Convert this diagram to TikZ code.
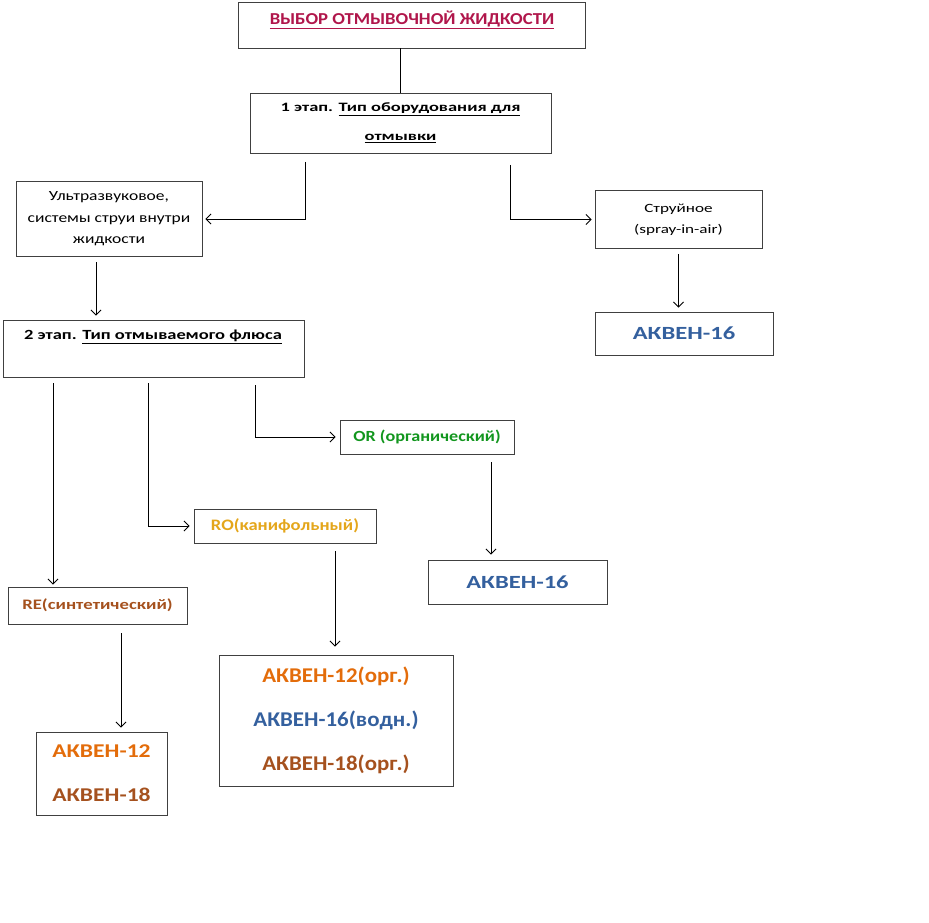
\documentclass[tikz,border=0pt]{standalone}
\usepackage{fontspec}
\setmainfont{Carlito}
\usetikzlibrary{arrows.meta}
\definecolor{titlered}{HTML}{B0164B}
\definecolor{akblue}{HTML}{34609E}
\definecolor{akorange}{HTML}{E36C0A}
\definecolor{akbrown}{HTML}{A5511E}
\definecolor{royellow}{HTML}{E4A61B}
\definecolor{orgreen}{HTML}{12961E}
\definecolor{boxgray}{HTML}{404040}
\newcommand\wfs[1]{\addfontfeatures{FakeStretch=#1}}
\begin{document}
\begin{tikzpicture}[x=1pt,y=-1pt,
  box/.style={draw=boxgray,line width=0.9pt,inner sep=0pt,align=center},
  conn/.style={line width=0.8pt,black},
  arr/.style={conn,-{Straight Barb[length=5pt,width=10pt,line width=0.8pt]}},
  small/.style={font=\fontsize{14}{21.5}\selectfont\wfs{1.25}},
  smaller/.style={font=\fontsize{12.6}{21}\selectfont\wfs{1.36}},
  stage/.style={font=\fontsize{12.8}{29}\selectfont\bfseries\wfs{1.44}},
  mid/.style={font=\fontsize{15.5}{18}\selectfont\bfseries\wfs{1.17}},
  big/.style={font=\fontsize{18.6}{24}\selectfont\bfseries\wfs{1.32}}]
\useasboundingbox (0,0) rectangle (929,923);
% boxes
\node[box,minimum width=347pt,minimum height=46pt] (title) at (411.5,25) {};
\node[font=\fontsize{16.7}{18}\selectfont\bfseries\wfs{1.12},text=titlered] (titletext) at (412,20) {\underline{ВЫБОР ОТМЫВОЧНОЙ ЖИДКОСТИ}};
\node[box,minimum width=301pt,minimum height=60pt,stage] (s1) at (400.5,123) {1 этап. \underline{Тип оборудования для}\\\underline{отмывки}};
\node[box,minimum width=186pt,minimum height=75pt,small] (ultra) at (109,219) {Ультразвуковое,\\системы струи внутри\\жидкости};
\node[box,minimum width=167pt,minimum height=58pt,smaller] (stru) at (678.5,219.5) {Струйное\\(spray-in-air)};
\node[box,minimum width=178pt,minimum height=43pt,big,text=akblue] (ak1) at (684,333.5) {АКВЕН-16};
\node[box,minimum width=301pt,minimum height=57pt] (s2) at (153.5,348.5) {};
\node[font=\fontsize{14}{18}\selectfont\bfseries\wfs{1.32}] (s2text) at (153,337) {2 этап. \underline{Тип отмываемого флюса}};
\node[box,minimum width=174pt,minimum height=34pt,mid,text=orgreen] (or) at (427,437) {OR (органический)};
\node[box,minimum width=179pt,minimum height=44pt,big,text=akblue] (ak2) at (517.5,582) {АКВЕН-16};
\node[box,minimum width=182pt,minimum height=34pt,font=\fontsize{16}{18}\selectfont\bfseries\wfs{1.16},text=royellow] (ro) at (285,526) {RO(канифольный)};
\node[box,minimum width=234pt,minimum height=131pt,font=\fontsize{21}{44}\selectfont\bfseries\wfs{1.09}] (three) at (336,720.5) {\textcolor{akorange}{АКВЕН-12(орг.)}\\\textcolor{akblue}{АКВЕН-16(водн.)}\\\textcolor{akbrown}{АКВЕН-18(орг.)}};
\node[box,minimum width=131pt,minimum height=83pt,font=\fontsize{19.5}{44}\selectfont\bfseries\wfs{1.21}] (two) at (101.5,773.5) {\textcolor{akorange}{АКВЕН-12}\\\textcolor{akbrown}{АКВЕН-18}};
\node[box,minimum width=179pt,minimum height=37pt,font=\fontsize{14.5}{18}\selectfont\bfseries\wfs{1.29},text=akbrown] (re) at (97.5,605.5) {RE(синтетический)};
% connector start points
\coordinate (c1) at (305,162);
\coordinate (c2) at (510,165);
\coordinate (c3) at (53,383);
\coordinate (c4) at (148,383);
\coordinate (c5) at (255,385);
\coordinate (c6) at (96,262);
% connectors
\draw[conn] (s1.north) -- (s1.north |- title.south);
\draw[arr,shorten >=3pt] (c1) |- (ultra.east);
\draw[arr,shorten >=3pt] (c2) |- (stru.west);
\draw[arr,shorten <=5pt,shorten >=4pt] (stru.south) -- (stru.south |- ak1.north);
\draw[arr,shorten >=4pt] (c6) -- (c6 |- s2.north);
\draw[arr,shorten >=2pt] (c3) -- (c3 |- re.north);
\draw[arr,shorten >=4pt] (c4) |- (ro.west);
\draw[arr,shorten >=4pt] (c5) |- (or.west);
\draw[arr,shorten <=8pt,shorten >=5pt] (or.south -| 491,0) -- (491,0 |- ak2.north);
\draw[arr,shorten <=8pt,shorten >=8pt] (ro.south -| 335,0) -- (335,0 |- three.north);
\draw[arr,shorten <=9pt,shorten >=4pt] (re.south -| 121,0) -- (121,0 |- two.north);
\end{tikzpicture}
\end{document}
